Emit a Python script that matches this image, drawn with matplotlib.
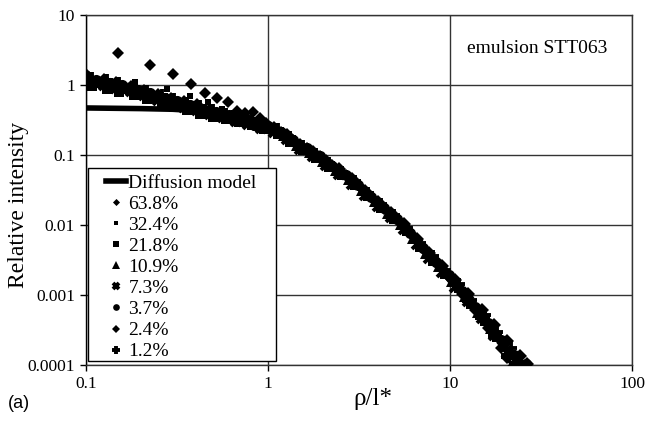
import matplotlib
matplotlib.use("Agg")
import matplotlib.pyplot as plt
from matplotlib.patches import Rectangle

plt.rcParams['font.family'] = ['Liberation Serif', 'DejaVu Serif']

# diffusion model curve
model_x = [0.1, 0.2, 0.3, 0.4, 0.5, 0.6, 0.7, 0.8, 1.0, 1.2, 1.5, 2.0, 2.5, 3.0, 4.0,
           5.0, 6.0, 7.0, 8.0, 10.0, 12.0, 15.0, 18.0, 21.0, 25.0]
model_y = [0.47, 0.46, 0.45, 0.43, 0.41, 0.36, 0.33, 0.30, 0.245, 0.195, 0.135, 0.083,
           0.056, 0.038, 0.020, 0.0122, 0.0078, 0.0049, 0.0033, 0.0016, 0.0010, 0.0005,
           0.00027, 0.000155, 0.000085]

# measured profiles, one per volume fraction
x_638 = [0.1, 0.15, 0.226, 0.30, 0.376, 0.45, 0.525, 0.60, 0.673, 0.75, 0.824, 0.90, 0.975,
         1.18, 1.38, 1.63, 1.92, 2.26, 2.67, 3.14, 3.7, 4.35, 5.13,
         6.05, 7.12, 8.36, 9.83, 11.6, 13.7, 16.2, 19.0, 20.5]
y_638 = [1.42, 2.84, 1.93, 1.42, 1.04, 0.77, 0.65, 0.58, 0.43, 0.40, 0.41, 0.34, 0.29,
         0.215, 0.165, 0.125, 0.097, 0.071, 0.052, 0.037, 0.025, 0.0172, 0.0119,
         0.0076, 0.0046, 0.0029, 0.0018, 0.00105, 0.00061, 0.00034, 0.000175, 0.000125]

x_324 = [0.186, 0.28, 0.372, 0.466, 0.558, 0.65, 0.744, 0.837, 0.93,
         1.04, 1.22, 1.44, 1.70, 2.0, 2.36, 2.78, 3.27, 3.85, 4.54,
         5.35, 6.3, 7.4, 8.7, 10.3, 12.1, 14.3, 16.8, 19.8]
y_324 = [1.10, 0.88, 0.70, 0.58, 0.45, 0.40, 0.36, 0.32, 0.285,
         0.25, 0.20, 0.15, 0.115, 0.086, 0.064, 0.046, 0.033, 0.0225, 0.0152,
         0.0104, 0.0063, 0.0038, 0.0024, 0.00145, 0.00086, 0.00049, 0.00027, 0.000135]

x_218 = [0.108, 0.13, 0.152, 0.184, 0.217, 0.26, 0.304, 0.358, 0.423, 0.5, 0.586,
         0.694, 0.814, 0.955, 1.13, 1.32, 1.56, 1.84, 2.17, 2.56, 3.02, 3.55, 4.18,
         4.93, 5.8, 6.84, 8.03, 9.44, 11.2, 13.1, 15.5, 18.2, 21.5]
y_218 = [0.98, 0.89, 0.80, 0.71, 0.63, 0.55, 0.49, 0.44, 0.39, 0.35, 0.33,
         0.30, 0.27, 0.235, 0.20, 0.155, 0.118, 0.092, 0.068, 0.051, 0.037, 0.026, 0.0176,
         0.0122, 0.0081, 0.0049, 0.0031, 0.0020, 0.00124, 0.00074, 0.00043, 0.00025, 0.000138]

x_109 = [0.10, 0.12, 0.14, 0.17, 0.20, 0.24, 0.28, 0.33, 0.39, 0.46, 0.54, 0.64,
         0.75, 0.88, 1.04, 1.22, 1.44, 1.70, 2.0, 2.36, 2.78, 3.27, 3.85, 4.54,
         5.35, 6.3, 7.4, 8.7, 10.3, 12.1, 14.3, 16.8, 19.8, 23.3]
y_109 = [1.20, 1.10, 1.00, 0.90, 0.78, 0.68, 0.60, 0.54, 0.48, 0.42, 0.38, 0.34,
         0.31, 0.27, 0.24, 0.19, 0.14, 0.11, 0.082, 0.062, 0.045, 0.032, 0.022, 0.015,
         0.0105, 0.0065, 0.0040, 0.0026, 0.0016, 0.00098, 0.00058, 0.00034, 0.00019, 0.000105]

x_73 = [0.104, 0.125, 0.146, 0.177, 0.208, 0.25, 0.292, 0.344, 0.406, 0.48, 0.563,
        0.667, 0.781, 0.917, 1.08, 1.27, 1.5, 1.77, 2.08, 2.46, 2.9, 3.41, 4.01,
        4.73, 5.57, 6.56, 7.71, 9.06, 10.7, 12.6, 14.9, 17.5, 20.6, 22.0]
y_73 = [1.10, 1.00, 0.91, 0.81, 0.71, 0.61, 0.55, 0.49, 0.44, 0.38, 0.345,
        0.31, 0.28, 0.245, 0.215, 0.17, 0.12, 0.096, 0.072, 0.054, 0.039, 0.027, 0.0186,
        0.0128, 0.0088, 0.0054, 0.0034, 0.0021, 0.0013, 0.00082, 0.00047, 0.00027, 0.00015, 0.000105]

x_37 = [0.113, 0.136, 0.158, 0.192, 0.226, 0.271, 0.316, 0.373, 0.441, 0.52, 0.61,
        0.723, 0.848, 0.994, 1.18, 1.38, 1.63, 1.92, 2.26, 2.67, 3.14, 3.7, 4.35,
        5.13, 6.05, 7.12, 8.36, 9.83, 11.6, 13.7, 16.2, 19.0, 22.4, 26.0]
y_37 = [1.19, 1.07, 0.99, 0.85, 0.76, 0.65, 0.59, 0.525, 0.46, 0.41, 0.37,
        0.335, 0.295, 0.257, 0.21, 0.163, 0.124, 0.096, 0.070, 0.051, 0.037, 0.025, 0.0173,
        0.0121, 0.0078, 0.0047, 0.0030, 0.0019, 0.00113, 0.00068, 0.00040, 0.00023, 0.000137, 0.000105]

x_24 = [0.104, 0.125, 0.146, 0.177, 0.208, 0.25, 0.292, 0.344, 0.406, 0.48, 0.563,
        0.667, 0.781, 0.917, 1.08, 1.27, 1.5, 1.77, 2.08, 2.46, 2.9, 3.41, 4.01,
        4.73, 5.57, 6.56, 7.71, 9.06, 10.7, 12.6, 14.9, 17.5, 20.6, 24.3, 26.5]
y_24 = [1.27, 1.16, 1.06, 0.94, 0.82, 0.71, 0.64, 0.57, 0.51, 0.44, 0.40,
        0.355, 0.32, 0.285, 0.245, 0.195, 0.14, 0.111, 0.083, 0.063, 0.045, 0.031, 0.0215,
        0.0149, 0.0103, 0.0063, 0.0040, 0.0026, 0.00162, 0.00102, 0.00062, 0.00037, 0.00022,
        0.000135, 0.000105]

x_12 = [0.108, 0.13, 0.152, 0.184, 0.217, 0.26, 0.304, 0.358, 0.423, 0.5, 0.586,
        0.694, 0.814, 0.955, 1.13, 1.32, 1.56, 1.84, 2.17, 2.56, 3.02, 3.55, 4.18,
        4.93, 5.8, 6.84, 8.03, 9.44, 11.2, 13.1, 15.5, 18.2, 21.5, 24.5]
y_12 = [1.27, 1.16, 1.06, 0.93, 0.82, 0.71, 0.63, 0.56, 0.50, 0.44, 0.39,
        0.35, 0.31, 0.27, 0.232, 0.178, 0.135, 0.105, 0.078, 0.058, 0.042, 0.029, 0.020,
        0.0138, 0.0092, 0.0056, 0.0036, 0.0023, 0.00142, 0.00086, 0.00051, 0.00030,
        0.000175, 0.000112]

# label, x, y, marker, size, edge width
series = [
    ('63.8%', x_638, y_638, 'D', 6, 0),
    ('32.4%', x_324, y_324, 's', 4, 0),
    ('21.8%', x_218, y_218, 's', 7.5, 0),
    ('10.9%', x_109, y_109, '^', 8.5, 0),
    ('7.3%', x_73, y_73, 'x', 7, 2.8),
    ('3.7%', x_37, y_37, 'o', 8, 0),
    ('2.4%', x_24, y_24, 'D', 7.5, 0),
    ('1.2%', x_12, y_12, '+', 9, 2.8),
]

fig = plt.figure(figsize=(6.45, 4.21), dpi=100)
ax = fig.add_axes([86/645, 1-365/421, 546/645, 350/421])

ax.plot(model_x, model_y, color='black', lw=4, label='Diffusion model', zorder=3)
for lab, xs, ys, mk, ms, mew in series:
    ax.plot(xs, ys, ls='none', marker=mk, ms=ms, mew=mew, color='black', label=lab, zorder=4)

ax.set_xscale('log')
ax.set_yscale('log')
ax.set_xlim(0.1, 100)
ax.set_ylim(0.0001, 10)
ax.set_xticks([0.1, 1, 10, 100])
ax.set_xticklabels(['0.1', '1', '10', '100'])
ax.set_yticks([0.0001, 0.001, 0.01, 0.1, 1, 10])
ax.set_yticklabels(['0.0001', '0.001', '0.01', '0.1', '1', '10'])
ax.minorticks_off()
ax.tick_params(labelsize=12.5, length=4, width=1, direction='out', pad=4)
ax.grid(True, color='#333333', lw=1.0)
for s in ax.spines.values():
    s.set_color('#333333')
    s.set_linewidth(1.0)
ax.spines['left'].set_color('black')

ax.set_ylabel('Relative intensity', fontsize=17)
ax.yaxis.set_label_coords(-0.104, 0.457)
ax.set_xlabel('ρ/l*', fontsize=18)
ax.xaxis.set_label_coords(0.526, -0.065)

ax.text(0.826, 0.904, 'emulsion STT063', transform=ax.transAxes, fontsize=14,
        ha='center', va='center')

# legend box
ax.add_patch(Rectangle((0.0037, 0.0114), 0.344, 0.552, transform=ax.transAxes,
                       facecolor='white', edgecolor='black', lw=1.0, zorder=5))
leg = ax.legend(loc='upper left', bbox_to_anchor=(0.0366, 0.544), frameon=False,
                fontsize=14, numpoints=1, markerscale=0.6, handlelength=1.05,
                handletextpad=0.1, labelspacing=0.175, borderpad=0, borderaxespad=0)
leg.set_zorder(6)

fig.text(8/645, 1-403/421, '(a)', fontsize=13, family='Liberation Sans', va='center')

fig.savefig('out.png', dpi=100)
